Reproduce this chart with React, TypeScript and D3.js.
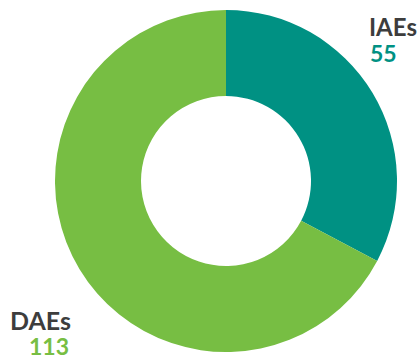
import React from "react";
import * as d3 from "d3";

const categories = ["IAEs", "DAEs"];
const values = [55, 113];
const colors = ["#009183", "#77BE43"];

export default function App() {
  const W = 417, H = 360;
  const cx = 226, cy = 181, R = 171, r = 85;
  const pie = d3.pie<number>().sort(null).value((d) => d)(values);
  const arc = d3.arc<d3.PieArcDatum<number>>().innerRadius(r).outerRadius(R);
  return (
    <svg width={W} height={H} style={{ position: "absolute", left: 0, top: 0 }}>
      <g transform={`translate(${cx},${cy})`}>
        {pie.map((p, i) => (
          <path key={i} d={arc(p) || ""} fill={colors[i]} />
        ))}
      </g>
      <g fontFamily="Lato" fontWeight={700}>
        <text x={369} y={36} fill="#3d3d3d" fontSize={24}>{categories[0]}</text>
        <text x={370} y={62} fill={colors[0]} fontSize={23}>{values[0]}</text>
        <text x={10} y={330} fill="#3d3d3d" fontSize={25}>{categories[1]}</text>
        <text x={29} y={355} fill={colors[1]} fontSize={23}>{values[1]}</text>
      </g>
    </svg>
  );
}
